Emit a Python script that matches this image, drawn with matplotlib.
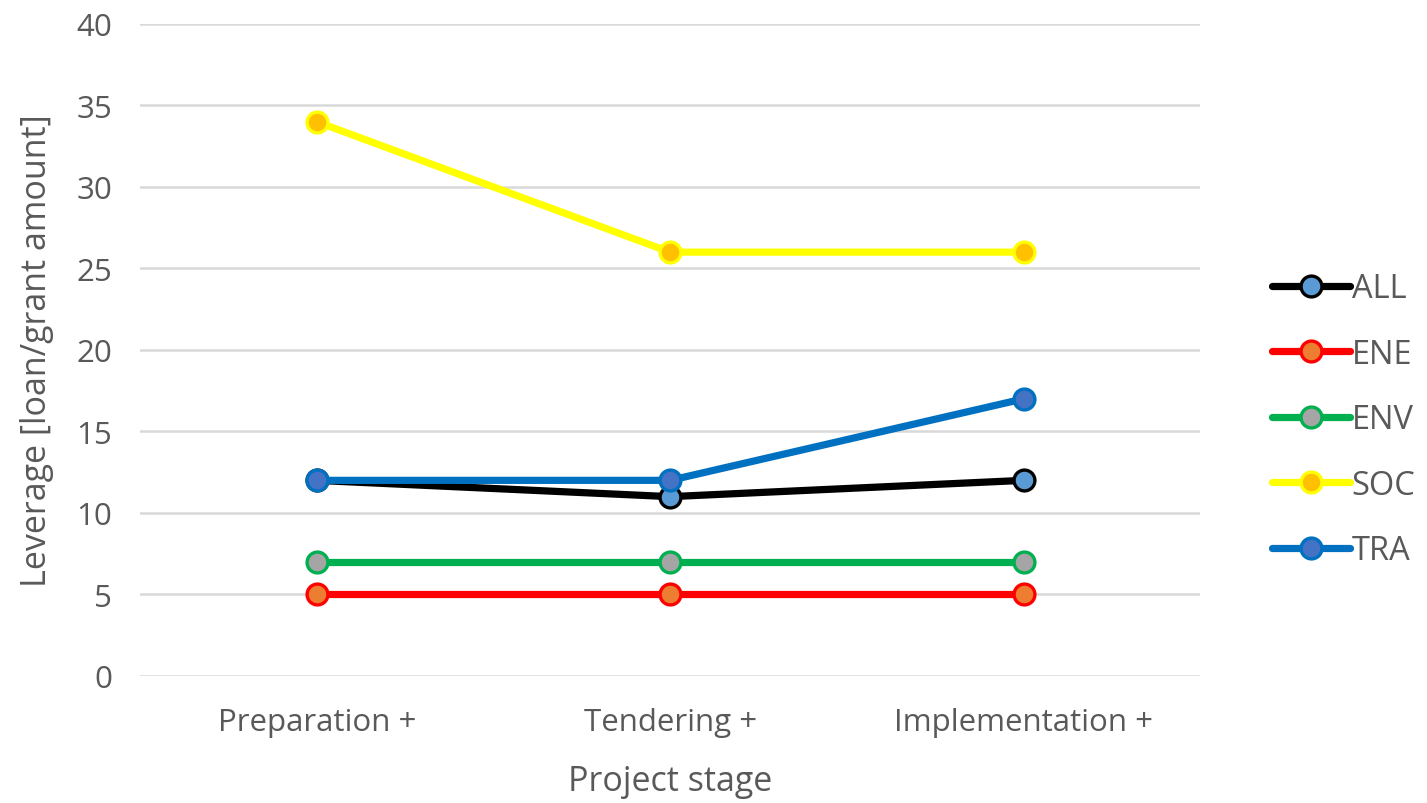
import matplotlib
matplotlib.use("Agg")
import matplotlib.pyplot as plt

stages = ["Preparation +", "Tendering +", "Implementation +"]
series_names = ["ALL", "ENE", "ENV", "SOC", "TRA"]
all_vals = [12, 11, 12]
ene_vals = [5, 5, 5]
env_vals = [7, 7, 7]
soc_vals = [34, 26, 26]
tra_vals = [12, 12, 17]

line_colors = ["#000000", "#FF0000", "#00B050", "#FFFF00", "#0070C0"]
face_colors = ["#5B9BD5", "#ED7D31", "#A5A5A5", "#FFC000", "#4472C4"]
values = [all_vals, ene_vals, env_vals, soc_vals, tra_vals]

plt.rcParams["font.family"] = ["Open Sans", "DejaVu Sans"]
text_color = "#595959"

fig = plt.figure(figsize=(14.27, 8.04), dpi=100)
ax = fig.add_axes([0.0981, 0.158, 0.743, 0.811])

x = list(range(len(stages)))
for name, vals, lc, fc in zip(series_names, values, line_colors, face_colors):
    ax.plot(x, vals, color=lc, linewidth=5.2, marker="o", markersize=15,
            markerfacecolor=fc, markeredgecolor=lc, markeredgewidth=2.4,
            label=name, solid_capstyle="round", zorder=3)

ax.set_xlim(-0.5, 2.5)
ax.set_ylim(0, 40)
ax.set_yticks(range(0, 41, 5))
ax.set_xticks(x)
ax.set_xticklabels(stages)
ax.grid(axis="y", color="#D9D9D9", linewidth=1.8)
ax.set_axisbelow(True)
for s in ax.spines.values():
    s.set_visible(False)
ax.tick_params(axis="both", length=0, labelsize=22.5, labelcolor=text_color)
ax.tick_params(axis="x", pad=22)
ax.tick_params(axis="y", pad=20)
ax.set_xlabel("Project stage", fontsize=24.5, color=text_color, labelpad=20)
ax.set_ylabel("Leverage [loan/grant amount]", fontsize=24.5, color=text_color, labelpad=16)

leg = ax.legend(loc="center left", bbox_to_anchor=(1.055, 0.393), frameon=False,
                fontsize=23.5, labelcolor=text_color, handlelength=2.4,
                handletextpad=0.05, labelspacing=1.0, borderaxespad=0)

fig.savefig("out.png", dpi=100)
